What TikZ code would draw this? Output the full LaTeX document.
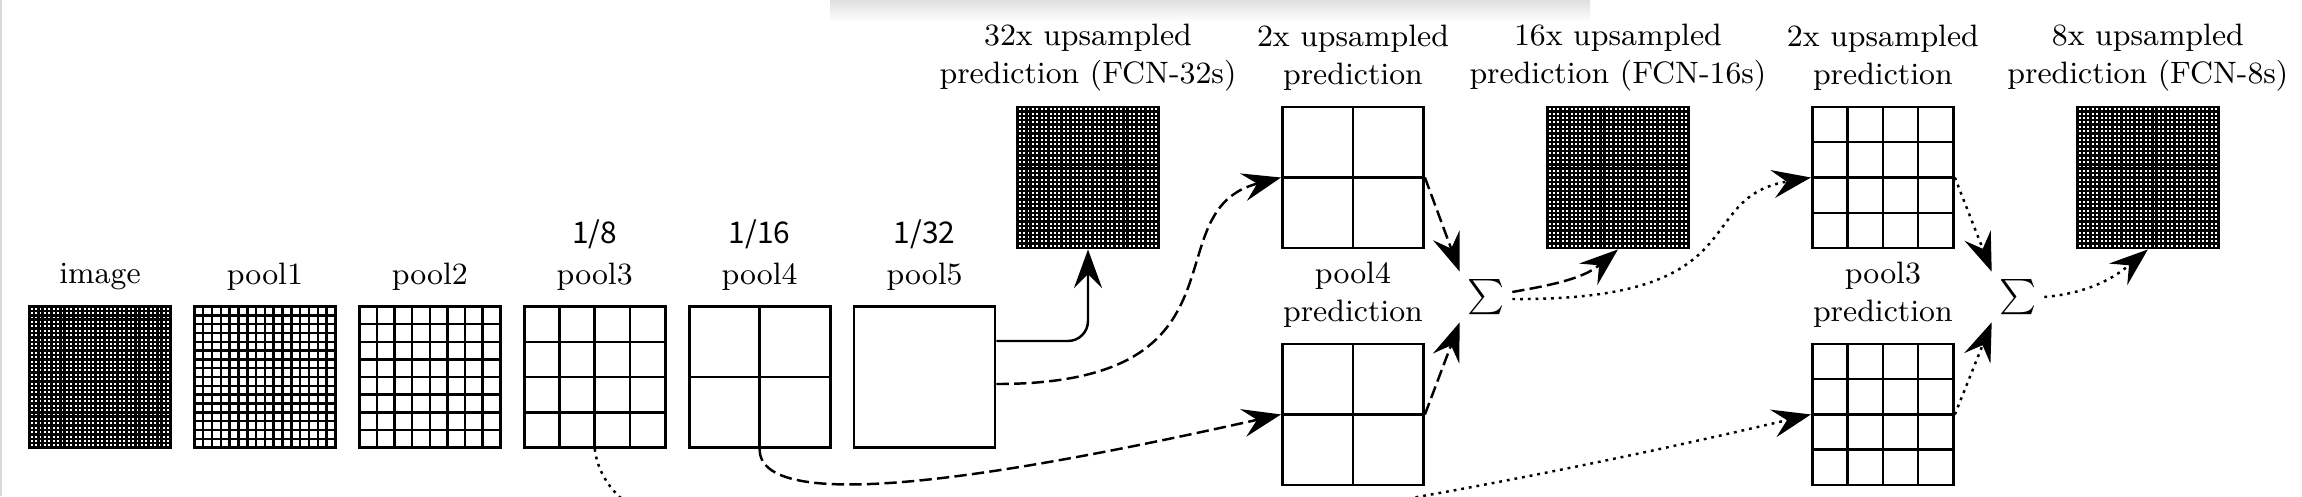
\documentclass[tikz,border=0pt]{standalone}
\usepackage{fontspec}
\newfontfamily\cjk{Noto Sans CJK SC}
\usetikzlibrary{arrows.meta,positioning,calc}

\begin{document}
\begin{tikzpicture}[
  x=0.01cm,y=0.01cm,
  font=\fontsize{8.8}{10.8}\selectfont,
  fmap/.style={draw,line width=0.8pt,minimum size=1.41cm,inner sep=0pt},
  cells/.style={fmap,path picture={
      \pgfmathtruncatemacro\nlast{#1-1}
      \foreach \k in {1,...,\nlast}{
        \draw[line width=0.7pt] (path picture bounding box.south west) ++({\k*1.41cm/#1},0pt) -- ++(0pt,1.41cm);
        \draw[line width=0.7pt] (path picture bounding box.south west) ++(0pt,{\k*1.41cm/#1}) -- ++(1.41cm,0pt);
      }}},
  lbl/.style={align=center,inner sep=0pt},
  ratio/.style={inner sep=0pt,font=\cjk\fontsize{8.5}{10}\selectfont},
  sumop/.style={inner sep=2pt},
  link/.style={line width=0.7pt},
  dashline/.style={link,dash pattern=on 3.5pt off 1.5pt},
  dotline/.style={link,dash pattern=on 0.8pt off 1.4pt},
  >={Stealth[length=11pt,width=8pt,inset=4pt]}
]
\useasboundingbox (0,0) rectangle (2302,496);
\clip (0,0) rectangle (2302,496);
\shade[top color=black!12,bottom color=white] (830,496) rectangle (1590,474);
\draw[black!15,line width=0.5pt] (1,0) -- (1,496);

% encoder feature maps
\node[cells=32] (img) at (100,119) {};
\node[cells=16,right=0.21cm of img] (pool1) {};
\node[cells=8,right=0.21cm of pool1] (pool2) {};
\node[cells=4,right=0.21cm of pool2] (pool3) {};
\node[cells=2,right=0.21cm of pool3] (pool4) {};
\node[fmap,right=0.21cm of pool4] (pool5) {};
\node[lbl,above=4pt of img] (limg) {image};
\node[lbl,above=4pt of pool1] (lp1) {pool1};
\node[lbl,above=4pt of pool2] (lp2) {pool2};
\node[lbl,above=4pt of pool3] (lp3) {pool3};
\node[lbl,above=4pt of pool4] (lp4) {pool4};
\node[lbl,above=4pt of pool5] (lp5) {pool5};
\node[ratio,above=3.5pt of lp3] (r8) {1/8};
\node[ratio,above=3.5pt of lp4] (r16) {1/16};
\node[ratio,above=3.5pt of lp5] (r32) {1/32};

% upsampled predictions
\node[cells=32] (up32) at (1088,318.5) {};
\node[cells=2,right=1.21cm of up32] (up2a) {};
\node[cells=32,right=1.21cm of up2a] (up16) {};
\node[cells=4,right=1.21cm of up16] (up2b) {};
\node[cells=32,right=1.21cm of up2b] (up8) {};
\node[cells=2,below=0.93cm of up2a] (p4pred) {};
\node[cells=4,below=0.93cm of up2b] (p3pred) {};
\node[lbl,above=4pt of up32] {32x upsampled\\prediction (FCN-32s)};
\node[lbl,above=4pt of up2a] {2x upsampled\\prediction};
\node[lbl,above=4pt of up16] {16x upsampled\\prediction (FCN-16s)};
\node[lbl,above=4pt of up2b] {2x upsampled\\prediction};
\node[lbl,above=4pt of up8] {8x upsampled\\prediction (FCN-8s)};
\node[lbl,above=4pt of p4pred] {pool4\\prediction};
\node[lbl,above=4pt of p3pred] {pool3\\prediction};
\node[sumop] (sum1) at (1486,199) {$\sum$};
\node[sumop] (sum2) at (2018,199) {$\sum$};

% FCN-32s
\draw[link,->,rounded corners=0.2cm] ([yshift=0.36cm]pool5.east) -| (up32.south);
% FCN-16s
\draw[dashline,->] ([yshift=-0.07cm]pool5.east) .. controls (1260,112) and (1150,285) .. (up2a.west);
\draw[dashline,->] (pool4.south) .. controls (759,-25) and (1037,27) .. (p4pred.west);
\draw[dashline,->] (up2a.east) -- (sum1.north west);
\draw[dashline,->] (p4pred.east) -- (sum1.south west);
\draw[dashline,->] ([yshift=0.05cm]sum1.east) to[out=10,in=220] (up16.south);
% FCN-8s
\draw[dotline,->] ([yshift=-0.02cm]sum1.east) .. controls (1760,195) and (1690,298) .. (up2b.west);
\draw[dotline,->] (pool3.south) .. controls (620,-150) and (1327,-33) .. (p3pred.west);
\draw[dotline,->] (up2b.east) -- (sum2.north west);
\draw[dotline,->] (p3pred.east) -- (sum2.south west);
\draw[dotline,->] (sum2.east) to[out=5,in=220] (up8.south);
\end{tikzpicture}
\end{document}
